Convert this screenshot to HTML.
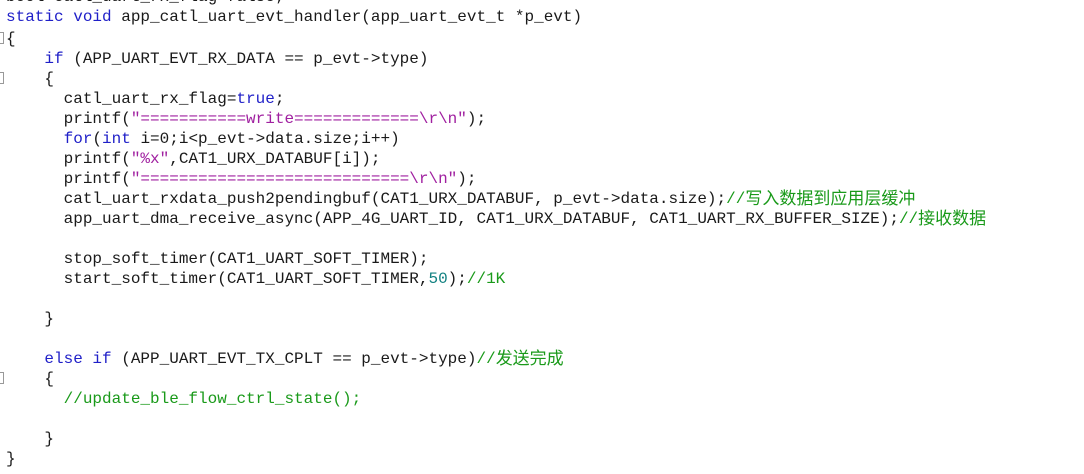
<!DOCTYPE html>
<html><head><meta charset="utf-8"><style>
html,body{margin:0;padding:0;background:#fff;width:1084px;height:474px;overflow:hidden}
.code{position:absolute;left:6px;top:-13px;font-family:"Liberation Mono","Noto Sans CJK SC",monospace;font-size:16px;color:#1a1a1a}
.code div{height:20px;line-height:20px;white-space:pre;overflow:visible}
.k{color:#1f1fc8}.s{color:#a020a0}.c{color:#1a9a1a}.n{color:#108080}
.cj{font-family:"Noto Sans CJK SC",sans-serif;font-size:17px;line-height:16px;display:inline-block;height:20px;vertical-align:top}
.m{position:absolute;left:0;width:3px;height:10px;border:1px solid #999;border-left:none}
</style></head><body>
<div class="code">
<div>bool catl_uart_rx_flag=false;</div>
<div style="height:22px"><span class="k">static void</span> app_catl_uart_evt_handler(app_uart_evt_t *p_evt)</div>
<div>{</div>
<div>    <span class="k">if</span> (APP_UART_EVT_RX_DATA == p_evt-&gt;type)</div>
<div>    {</div>
<div>      catl_uart_rx_flag=<span class="k">true</span>;</div>
<div>      printf(<span class="s">"===========write=============\r\n"</span>);</div>
<div>      <span class="k">for</span>(<span class="k">int</span> i=0;i&lt;p_evt-&gt;data.size;i++)</div>
<div>      printf(<span class="s">"%x"</span>,CAT1_URX_DATABUF[i]);</div>
<div>      printf(<span class="s">"============================\r\n"</span>);</div>
<div>      catl_uart_rxdata_push2pendingbuf(CAT1_URX_DATABUF, p_evt-&gt;data.size);<span class="c">//<span class="cj">写入数据到应用层缓冲</span></span></div>
<div>      app_uart_dma_receive_async(APP_4G_UART_ID, CAT1_URX_DATABUF, CAT1_UART_RX_BUFFER_SIZE);<span class="c">//<span class="cj">接收数据</span></span></div>
<div> </div>
<div>      stop_soft_timer(CAT1_UART_SOFT_TIMER);</div>
<div>      start_soft_timer(CAT1_UART_SOFT_TIMER,<span class="n">50</span>);<span class="c">//1K</span></div>
<div> </div>
<div>    }</div>
<div> </div>
<div>    <span class="k">else if</span> (APP_UART_EVT_TX_CPLT == p_evt-&gt;type)<span class="c">//<span class="cj">发送完成</span></span></div>
<div>    {</div>
<div>      <span class="c">//update_ble_flow_ctrl_state();</span></div>
<div> </div>
<div>    }</div>
<div>}</div>
</div>
<div class="m" style="top:32px"></div>
<div class="m" style="top:72px"></div>
<div class="m" style="top:372px"></div>
</body></html>
